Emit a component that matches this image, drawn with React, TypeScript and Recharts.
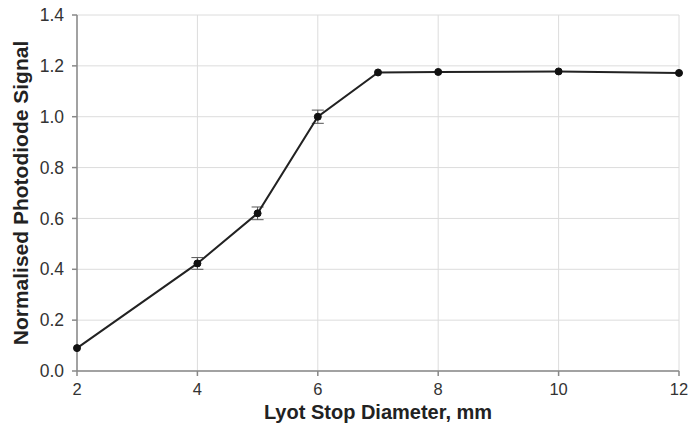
import {
  LineChart,
  Line,
  XAxis,
  YAxis,
  CartesianGrid,
  ErrorBar,
  Label,
} from "recharts";

const diameters = [2, 4, 5, 6, 7, 8, 10, 12];
const signals = [0.09, 0.423, 0.62, 1.0, 1.174, 1.176, 1.178, 1.172];
const errors = [0, 0.023, 0.025, 0.026, 0, 0, 0, 0];
const xTicks = [2, 4, 6, 8, 10, 12];
const yTicks = [0, 0.2, 0.4, 0.6, 0.8, 1.0, 1.2, 1.4];

const data = diameters.map((d, i) => ({
  d,
  signal: signals[i],
  err: errors[i],
}));

const FONT = "'Liberation Sans', Arial, Helvetica, sans-serif";
const yTickStyle = { fill: "#333", fontSize: 17.5, fontFamily: FONT };
const xTickStyle = { fill: "#333", fontSize: 16.5, fontFamily: FONT };

function YTitle(props: any) {
  const vb = props.viewBox || {};
  const cx = 20;
  const cy = vb.y + vb.height / 2;
  return (
    <text
      x={cx}
      y={cy}
      transform={`rotate(-90 ${cx} ${cy})`}
      textAnchor="middle"
      dominantBaseline="central"
      fontFamily={FONT}
      fontWeight="bold"
      fontSize={21}
      fill="#222"
    >
      Normalised Photodiode Signal
    </text>
  );
}

function XTitle(props: any) {
  const vb = props.viewBox || {};
  return (
    <text
      x={vb.x + vb.width / 2}
      y={419}
      textAnchor="middle"
      fontFamily={FONT}
      fontWeight="bold"
      fontSize={20}
      fill="#222"
    >
      Lyot Stop Diameter, mm
    </text>
  );
}

export default function App() {
  return (
    <div>
      <style>{`body{margin:0;background:#fff}`}</style>
      <LineChart
        width={690}
        height={433}
        data={data}
        margin={{ top: 15, right: 11, left: 0, bottom: 0 }}
      >
        <CartesianGrid stroke="#dcdcdc" strokeWidth={1} />
        <XAxis
          dataKey="d"
          type="number"
          domain={[2, 12]}
          ticks={xTicks}
          tick={xTickStyle}
          tickSize={5}
          tickMargin={7}
          height={62}
          stroke="#888"
          strokeWidth={1.5}
          tickLine={{ stroke: "#888" }}
        >
          <Label content={XTitle} />
        </XAxis>
        <YAxis
          type="number"
          domain={[0, 1.4]}
          ticks={yTicks}
          tickFormatter={(v: number) => v.toFixed(1)}
          tick={yTickStyle}
          tickSize={5}
          tickMargin={8}
          width={77}
          stroke="#888"
          strokeWidth={1.5}
          tickLine={{ stroke: "#888" }}
        >
          <Label content={YTitle} />
        </YAxis>
        <Line
          dataKey="signal"
          stroke="#222"
          strokeWidth={2}
          dot={{ r: 3.5, fill: "#111", stroke: "#111", strokeWidth: 1 }}
          activeDot={false}
          isAnimationActive={false}
        >
          <ErrorBar
            dataKey="err"
            direction="y"
            width={6}
            stroke="#555"
            strokeWidth={1}
            isAnimationActive={false}
          />
        </Line>
      </LineChart>
    </div>
  );
}
